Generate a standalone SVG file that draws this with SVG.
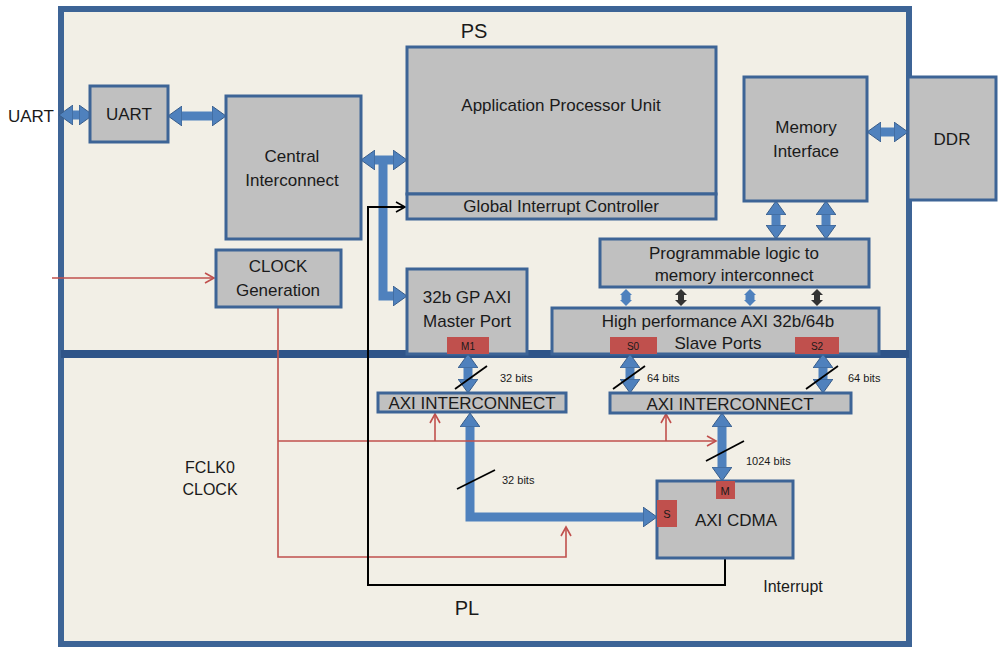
<svg xmlns="http://www.w3.org/2000/svg" width="1008" height="656" viewBox="0 0 1008 656">
<style>
text{font-family:"Liberation Sans",Arial,sans-serif;fill:#1a1a1a}
.b{fill:#c0c0c0;stroke:#3d6496;stroke-width:3}
.r{fill:#c0504d;stroke:none}
.t{font-size:17px;text-anchor:middle}
.s{font-size:11px}
.bl{fill:none;stroke:#4f81bd;stroke-width:9}
.bk{fill:none;stroke:#333;stroke-width:6}
.rd{fill:none;stroke:#c0504d;stroke-width:1.6}
.sl{stroke:#000;stroke-width:1.8}
</style>
<defs>
<marker id="ba" markerUnits="userSpaceOnUse" markerWidth="16" markerHeight="20" refX="2" refY="10" orient="auto-start-reverse" viewBox="0 0 16 20"><path d="M0,0 L14,10 L0,20 Z" fill="#4f81bd" stroke="#385d8a"/></marker>
<marker id="bs" markerUnits="userSpaceOnUse" markerWidth="8" markerHeight="12" refX="1" refY="6" orient="auto-start-reverse" viewBox="0 0 8 12"><path d="M0,0 L6,6 L0,12 Z" fill="#4f81bd"/></marker>
<marker id="ks" markerUnits="userSpaceOnUse" markerWidth="8" markerHeight="12" refX="1" refY="6" orient="auto-start-reverse" viewBox="0 0 8 12"><path d="M0,0 L6,6 L0,12 Z" fill="#333"/></marker>
<marker id="ra" markerUnits="userSpaceOnUse" markerWidth="12" markerHeight="12" refX="10" refY="6" orient="auto" viewBox="0 0 12 12"><path d="M1,1 L10,6 L1,11" fill="none" stroke="#c0504d" stroke-width="1.6"/></marker>
<marker id="ka" markerUnits="userSpaceOnUse" markerWidth="12" markerHeight="12" refX="10" refY="6" orient="auto" viewBox="0 0 12 12"><path d="M1,1 L10,6 L1,11" fill="none" stroke="#000" stroke-width="1.6"/></marker>
</defs>
<rect width="1008" height="656" fill="#fff"/>
<rect x="61" y="9" width="848" height="635" fill="#f2efe6" stroke="#3d6496" stroke-width="6"/>
<line x1="61" y1="354" x2="909" y2="354" stroke="#2f5488" stroke-width="8"/>
<text x="474" y="38" font-size="20" text-anchor="middle">PS</text>
<text x="467" y="615" font-size="20" text-anchor="middle">PL</text>
<text x="8" y="122" font-size="17">UART</text>
<text x="210" y="473" font-size="16" text-anchor="middle">FCLK0</text>
<text x="210" y="495" font-size="16" text-anchor="middle">CLOCK</text>
<text x="793" y="592" font-size="16" text-anchor="middle">Interrupt</text>

<g id="connectors">
<line class="bl" x1="71" y1="115" x2="81" y2="115" marker-start="url(#ba)" marker-end="url(#ba)"/>
<line class="bl" x1="180" y1="116" x2="214" y2="116" marker-start="url(#ba)" marker-end="url(#ba)"/>
<line class="bl" x1="373" y1="160" x2="395" y2="160" marker-start="url(#ba)" marker-end="url(#ba)"/>
<polyline class="bl" points="383,160 383,296 395,296" marker-end="url(#ba)"/>
<line class="bl" x1="879" y1="132" x2="896" y2="132" marker-start="url(#ba)" marker-end="url(#ba)"/>
<line class="bl" x1="776" y1="213" x2="776" y2="227" marker-start="url(#ba)" marker-end="url(#ba)"/>
<line class="bl" x1="826" y1="213" x2="826" y2="227" marker-start="url(#ba)" marker-end="url(#ba)"/>
<line class="bl" stroke-width="5" x1="626" y1="294" x2="626" y2="301" marker-start="url(#bs)" marker-end="url(#bs)"/>
<line class="bl" stroke-width="5" x1="750" y1="294" x2="750" y2="301" marker-start="url(#bs)" marker-end="url(#bs)"/>
<line class="bk" stroke-width="5" x1="681" y1="294" x2="681" y2="301" marker-start="url(#ks)" marker-end="url(#ks)"/>
<line class="bk" stroke-width="5" x1="817" y1="294" x2="817" y2="301" marker-start="url(#ks)" marker-end="url(#ks)"/>
<line class="bl" x1="468" y1="366" x2="468" y2="381" marker-start="url(#ba)" marker-end="url(#ba)"/>
<line class="bl" x1="630" y1="366" x2="630" y2="381" marker-start="url(#ba)" marker-end="url(#ba)"/>
<line class="bl" x1="823" y1="366" x2="823" y2="381" marker-start="url(#ba)" marker-end="url(#ba)"/>
<line class="bl" x1="722" y1="425" x2="722" y2="469" marker-start="url(#ba)" marker-end="url(#ba)"/>
<polyline class="bl" points="470,425 470,517 645,517" marker-start="url(#ba)" marker-end="url(#ba)"/>
<line class="sl" x1="455" y1="389" x2="487" y2="366"/>
<line class="sl" x1="613" y1="389" x2="645" y2="366"/>
<line class="sl" x1="806" y1="389" x2="838" y2="366"/>
<line class="sl" x1="706" y1="461" x2="744" y2="441"/>
<line class="sl" x1="457" y1="489" x2="495" y2="470"/>
<polyline class="rd" points="52,278 214,278" marker-end="url(#ra)"/>
<polyline class="rd" points="278,307 278,557 566,557 566,527" marker-end="url(#ra)"/>
<polyline class="rd" points="278,441 716,441" marker-end="url(#ra)"/>
<polyline class="rd" points="435,441 435,414" marker-end="url(#ra)"/>
<polyline class="rd" points="666,441 666,414" marker-end="url(#ra)"/>
<polyline fill="none" stroke="#000" stroke-width="2" points="725,559 725,585 368,585 368,207 405,207" marker-end="url(#ka)"/>
</g>
<text class="s" x="500" y="382">32 bits</text>
<text class="s" x="647" y="382">64 bits</text>
<text class="s" x="848" y="382">64 bits</text>
<text class="s" x="746" y="465">1024 bits</text>
<text class="s" x="502" y="484">32 bits</text>

<g id="uart"><rect class="b" x="90" y="86" width="78" height="56"/><text class="t" x="129" y="120">UART</text></g>
<g id="central"><rect class="b" x="226" y="96" width="135" height="143"/><text class="t" x="292" y="162">Central</text><text class="t" x="292" y="186">Interconnect</text></g>
<g id="apu"><rect class="b" x="407" y="47" width="309" height="147" fill="#a6a6a6"/><text class="t" x="561" y="111">Application Processor Unit</text></g>
<g id="gic"><rect class="b" x="407" y="194" width="309" height="25"/><text class="t" x="561" y="212">Global Interrupt Controller</text></g>
<g id="mem"><rect class="b" x="744" y="77" width="123" height="124"/><text class="t" x="806" y="133">Memory</text><text class="t" x="806" y="157">Interface</text></g>
<g id="ddr"><rect class="b" x="908" y="77" width="88" height="123"/><text class="t" x="952" y="145">DDR</text></g>
<g id="clock"><rect class="b" x="216" y="250" width="125" height="57"/><text class="t" x="278" y="272">CLOCK</text><text class="t" x="278" y="296">Generation</text></g>
<g id="plmem"><rect class="b" x="600" y="239" width="269" height="48"/><text class="t" x="734" y="259">Programmable logic to</text><text class="t" x="734" y="281">memory interconnect</text></g>
<g id="gp"><rect class="b" x="407" y="269" width="120" height="85"/><text class="t" x="467" y="303">32b GP AXI</text><text class="t" x="467" y="327">Master Port</text><rect class="r" x="447" y="337" width="42" height="17"/><text x="468" y="350" font-size="10" text-anchor="middle">M1</text></g>
<g id="hp"><rect class="b" x="552" y="308" width="327" height="46"/><text class="t" x="718" y="327">High performance AXI 32b/64b</text><text class="t" x="718" y="349">Slave Ports</text><rect class="r" x="610" y="337" width="47" height="17"/><text x="633" y="350" font-size="10" text-anchor="middle">S0</text><rect class="r" x="795" y="337" width="44" height="17"/><text x="817" y="350" font-size="10" text-anchor="middle">S2</text></g>
<g id="axil"><rect class="b" x="378" y="393" width="188" height="19"/><text class="t" x="472" y="409">AXI INTERCONNECT</text></g>
<g id="axir"><rect class="b" x="610" y="393" width="241" height="20"/><text class="t" x="730" y="410">AXI INTERCONNECT</text></g>
<g id="cdma"><rect class="b" x="657" y="481" width="136" height="77"/><text class="t" x="736" y="526" font-size="18">AXI CDMA</text><rect class="r" x="716" y="481" width="19" height="18"/><text x="725" y="495" font-size="11" text-anchor="middle">M</text><rect class="r" x="657" y="500" width="20" height="27"/><text x="667" y="518" font-size="11" text-anchor="middle">S</text></g>
</svg>
